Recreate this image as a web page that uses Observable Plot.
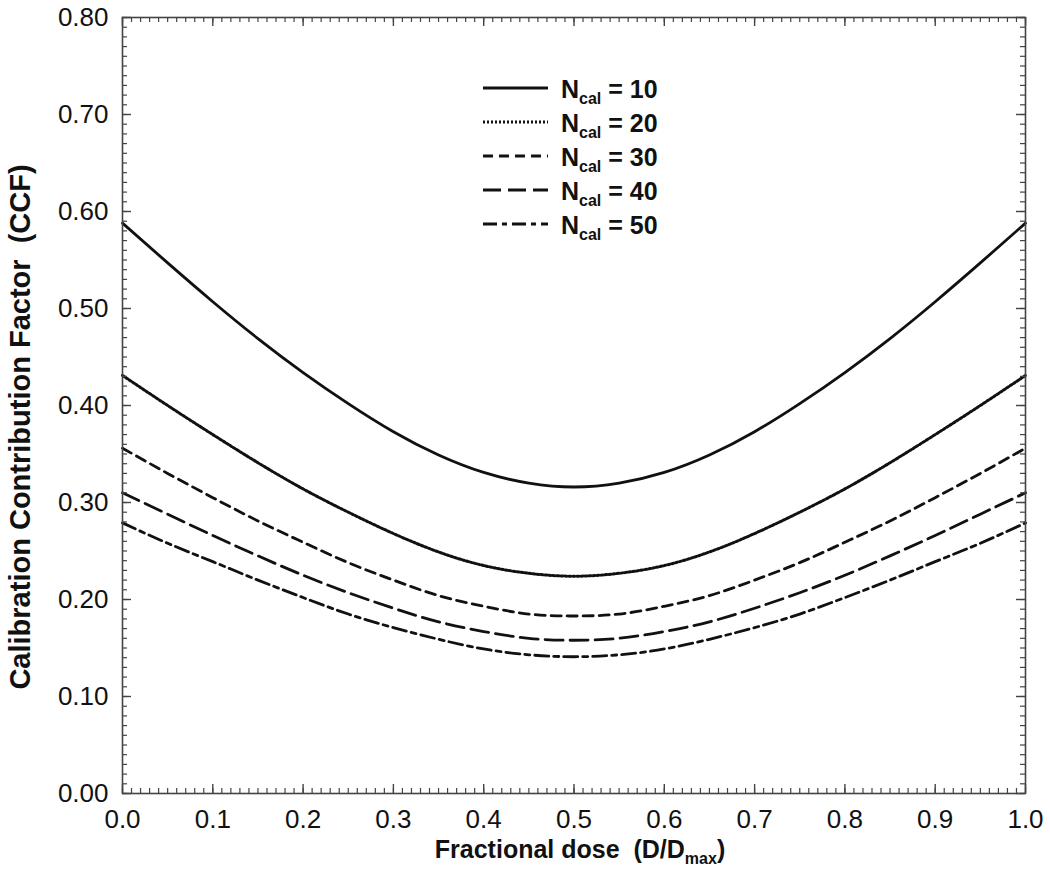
<!DOCTYPE html>
<html><head><meta charset="utf-8">
<script src="https://cdn.jsdelivr.net/npm/d3@7"></script>
<script src="https://cdn.jsdelivr.net/npm/@observablehq/plot@0.6"></script>
<style>
body{margin:0;background:#fff}
svg{font-family:"Liberation Sans",Arial,sans-serif}
</style>
</head><body><div id="chart"></div>
<script>
// ---- data ----
const doseX = [0,0.05,0.1,0.15,0.2,0.25,0.3,0.35,0.4,0.45,0.5,0.55,0.6,0.65,0.7,0.75,0.8,0.85,0.9,0.95,1.0];
const ccfN10 = [0.588,0.547,0.507,0.469,0.434,0.402,0.373,0.349,0.331,0.320,0.316,0.320,0.331,0.349,0.373,0.402,0.434,0.469,0.507,0.547,0.588];
const ccfN20 = [0.431,0.400,0.370,0.341,0.314,0.290,0.268,0.249,0.235,0.227,0.224,0.227,0.235,0.249,0.268,0.290,0.314,0.341,0.370,0.400,0.431];
const ccfN30 = [0.356,0.330,0.305,0.281,0.259,0.238,0.220,0.204,0.193,0.185,0.183,0.185,0.193,0.204,0.220,0.238,0.259,0.281,0.305,0.330,0.356];
const ccfN40 = [0.310,0.288,0.266,0.245,0.225,0.207,0.191,0.177,0.167,0.160,0.158,0.160,0.167,0.177,0.191,0.207,0.225,0.245,0.266,0.288,0.310];
const ccfN50 = [0.279,0.258,0.239,0.220,0.202,0.185,0.171,0.159,0.149,0.143,0.141,0.143,0.149,0.159,0.171,0.185,0.202,0.220,0.239,0.258,0.279];
const seriesLabels = ["10","20","30","40","50"];
const xTicks = [0,0.1,0.2,0.3,0.4,0.5,0.6,0.7,0.8,0.9,1.0];
const xTickLabels = ["0.0","0.1","0.2","0.3","0.4","0.5","0.6","0.7","0.8","0.9","1.0"];
const yTicks = [0,0.1,0.2,0.3,0.4,0.5,0.6,0.7,0.8];
const yTickLabels = ["0.00","0.10","0.20","0.30","0.40","0.50","0.60","0.70","0.80"];

// ---- styles ----
const seriesValues = [ccfN10, ccfN20, ccfN30, ccfN40, ccfN50];
const dashArrays = [null, "2 2", "10 6", "18 7", "14 5 5 5"];
const widths = [2.8, 3, 2.8, 2.8, 2.8];

const W = 1050, H = 879, ML = 122, MR = 25, MT = 17, MB = 86;
const PW = W - ML - MR, PH = H - MT - MB;
const xMinor = d3.range(0, 101).map(i => i / 100);
const yMinor = d3.range(0, 81).map(i => i / 100);
const tickCol = "#444";

const marks = [];
// curves
seriesValues.forEach((vals, i) => {
  const rows = doseX.map((x, j) => ({x, y: vals[j]}));
  marks.push(Plot.line(rows, {x: "x", y: "y", stroke: "#111", strokeWidth: widths[i],
    strokeDasharray: dashArrays[i] || undefined, curve: "natural"}));
});
// inward ticks: bottom/top/left/right
marks.push(Plot.tickX(xMinor, {x: d => d, insetTop: PH - 5, stroke: tickCol, strokeWidth: 1.2}));
marks.push(Plot.tickX(xTicks, {x: d => d, insetTop: PH - 9, stroke: tickCol, strokeWidth: 1.4}));
marks.push(Plot.tickX(xMinor, {x: d => d, insetBottom: PH - 5, stroke: tickCol, strokeWidth: 1.2}));
marks.push(Plot.tickX(xTicks, {x: d => d, insetBottom: PH - 9, stroke: tickCol, strokeWidth: 1.4}));
marks.push(Plot.tickY(yMinor, {y: d => d, insetRight: PW - 5, stroke: tickCol, strokeWidth: 1.2}));
marks.push(Plot.tickY(yTicks, {y: d => d, insetRight: PW - 9, stroke: tickCol, strokeWidth: 1.4}));
marks.push(Plot.tickY(yMinor, {y: d => d, insetLeft: PW - 5, stroke: tickCol, strokeWidth: 1.2}));
marks.push(Plot.tickY(yTicks, {y: d => d, insetLeft: PW - 9, stroke: tickCol, strokeWidth: 1.4}));
marks.push(Plot.frame({stroke: tickCol, strokeWidth: 1.6}));
// axis labels
marks.push(Plot.axisX(xTicks, {tickSize: 0, tickPadding: 16, fontSize: 26, fill: "#111",
  tickFormat: d => xTickLabels[xTicks.indexOf(d)], label: null}));
marks.push(Plot.axisY(yTicks, {tickSize: 0, tickPadding: 14, fontSize: 26, fill: "#111",
  tickFormat: d => yTickLabels[yTicks.indexOf(d)], label: null}));

const chart = Plot.plot({
  width: W, height: H,
  marginLeft: ML, marginRight: MR, marginTop: MT, marginBottom: MB,
  x: {domain: [0, 1]},
  y: {domain: [0, 0.8]},
  style: {fontFamily: '"Liberation Sans", Arial, sans-serif', background: "#fff", color: "#111"},
  marks
});
document.getElementById("chart").appendChild(chart);

const svg = d3.select(chart);
// x axis title
const xt = svg.append("text").attr("x", 580).attr("y", 858).attr("text-anchor", "middle")
  .attr("font-size", 25).attr("font-weight", "bold").attr("fill", "#111").style("white-space", "pre");
xt.append("tspan").text("Fractional dose  (D/D");
xt.append("tspan").attr("font-size", 16).attr("dy", 6).text("max");
xt.append("tspan").attr("dy", -6).text(")");
// y axis title
svg.append("text").attr("transform", "translate(30,427) rotate(-90)").attr("text-anchor", "middle")
  .attr("font-size", 29).attr("font-weight", "bold").attr("fill", "#111").style("white-space", "pre")
  .text("Calibration Contribution Factor  (CCF)");
// legend
const lg = svg.append("g");
seriesLabels.forEach((lab, i) => {
  const y = 88 + i * 34;
  lg.append("line").attr("x1", 483).attr("x2", 548).attr("y1", y).attr("y2", y)
    .attr("stroke", "#111").attr("stroke-width", widths[i])
    .attr("stroke-dasharray", dashArrays[i]);
  const t = lg.append("text").attr("x", 561).attr("y", y + 10).attr("font-size", 25)
    .attr("text-anchor", "start")
    .attr("font-weight", "bold").attr("fill", "#111").style("white-space", "pre");
  t.append("tspan").text("N");
  t.append("tspan").attr("font-size", 16).attr("dy", 6).text("cal");
  t.append("tspan").attr("dy", -6).text(" = " + lab);
});
</script>
</body></html>
